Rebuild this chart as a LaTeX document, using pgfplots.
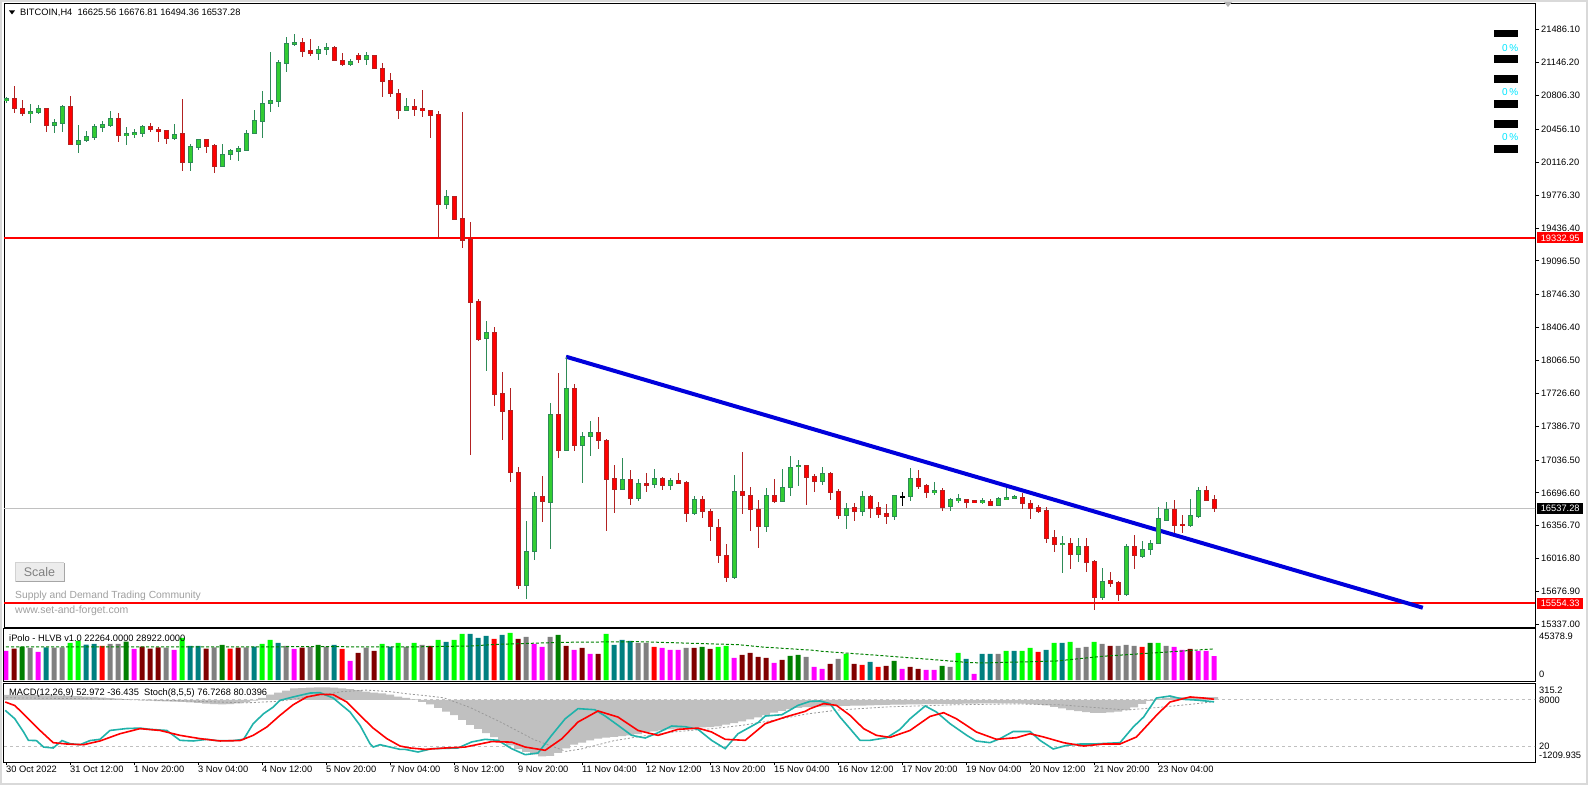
\documentclass[border=0pt]{standalone}
\usepackage{pgfplots}
\usepackage{pgfplotstable}
\pgfplotsset{compat=1.18}
\usepackage{fontspec}
\setmainfont{Liberation Sans}

\definecolor{bullfill}{RGB}{50,205,50}
\definecolor{bullline}{RGB}{46,139,87}
\definecolor{bearfill}{RGB}{255,0,0}
\definecolor{bearline}{RGB}{178,34,34}
\definecolor{trendblue}{RGB}{0,0,220}
\definecolor{silver}{RGB}{192,192,192}
\definecolor{stochmain}{RGB}{32,178,170}
\definecolor{volmag}{RGB}{255,0,255}
\definecolor{volmaroon}{RGB}{128,0,0}
\definecolor{voldg}{RGB}{0,128,0}
\definecolor{volgray}{RGB}{128,128,128}
\definecolor{volteal}{RGB}{0,128,128}
\definecolor{vollime}{RGB}{0,255,0}
\definecolor{volred}{RGB}{255,0,0}
\definecolor{wintext}{RGB}{160,160,160}
\definecolor{pctcyan}{RGB}{0,230,255}

\newcommand\mtf{\fontsize{9.3}{11}\selectfont}

% BITCOIN H4 candles: index, open, high, low, close
\pgfplotstableread{
i o h l c
0 20752 20790 20728 20775
3 20622 20718 20525 20635
4 20628 20705 20618 20666
6 20498 20566 20415 20522
7 20514 20708 20425 20687
9 20297 20498 20215 20343
10 20343 20439 20328 20377
11 20374 20511 20343 20480
12 20473 20545 20432 20501
13 20494 20646 20484 20563
15 20394 20480 20297 20408
16 20401 20460 20370 20418
17 20415 20501 20380 20480
21 20359 20511 20346 20405
23 20111 20304 20025 20273
24 20266 20359 20246 20346
27 20070 20304 20063 20198
28 20194 20250 20139 20232
29 20225 20284 20132 20253
30 20242 20446 20232 20415
31 20411 20656 20408 20542
32 20535 20856 20370 20725
33 20721 21259 20635 20749
34 20742 21173 20687 21142
35 21135 21414 21052 21339
36 21335 21442 21321 21356
39 21238 21318 21176 21284
40 21280 21349 21228 21304
43 21125 21180 21114 21160
45 21176 21256 21125 21222
50 20653 20783 20646 20694
55 19681 19829 19629 19756
60 18295 18474 17960 18357
65 15741 16406 15599 16093
66 16093 16703 16000 16654
68 16600 17626 16113 17509
70 17137 18105 17130 17774
72 17189 17326 16802 17278
73 17282 17440 17081 17323
77 16734 17054 16727 16837
79 16641 16837 16616 16796
81 16786 16944 16744 16847
83 16775 16847 16723 16823
86 16486 16665 16465 16630
91 15824 16882 15809 16713
95 16347 16744 16295 16672
97 16606 16944 16602 16754
98 16754 17075 16667 16961
99 16967 17037 16768 16978
102 16812 16964 16781 16892
105 16460 16592 16326 16537
107 16502 16719 16458 16661
111 16450 16675 16416 16665
113 16657 16951 16616 16847
116 16703 16809 16672 16716
118 16554 16641 16512 16623
119 16616 16682 16589 16633
122 16595 16641 16582 16613
124 16571 16651 16561 16641
125 16633 16744 16623 16644
126 16644 16672 16630 16657
132 16161 16248 15871 16175
134 16065 16227 15985 16137
137 15613 15917 15586 15782
140 15644 16168 15630 16137
142 16037 16202 16020 16113
143 16113 16209 16057 16175
144 16175 16548 16171 16427
145 16416 16599 16406 16520
148 16357 16636 16347 16458
149 16454 16754 16440 16716
}\bull

\pgfplotstableread{
i o h l c
1 20777 20904 20625 20674
2 20674 20759 20597 20622
5 20666 20672 20432 20494
8 20687 20801 20294 20297
14 20563 20622 20328 20390
18 20480 20522 20432 20452
19 20452 20480 20328 20432
20 20439 20449 20308 20359
22 20408 20770 20025 20111
25 20349 20359 20215 20277
26 20284 20304 20008 20070
37 21356 21397 21207 21259
38 21266 21387 21218 21238
41 21304 21321 21163 21166
42 21170 21245 21114 21125
44 21218 21249 21145 21176
46 21222 21225 21083 21090
47 21087 21145 20794 20949
48 20956 21042 20794 20825
49 20829 20876 20566 20649
51 20694 20767 20597 20659
52 20666 20863 20587 20653
53 20653 20656 20363 20601
54 20604 20646 19336 19677
56 19756 19762 19524 19526
57 19529 20635 19234 19304
58 19312 19498 17092 18663
59 18671 18702 18267 18288
61 18357 18409 17598 17716
62 17726 17944 17247 17536
63 17543 17778 16812 16910
64 16910 16961 15700 15741
67 16654 16871 16399 16606
69 17509 17936 17061 17137
71 17774 17823 17130 17185
74 17323 17478 17147 17240
75 17240 17257 16306 16837
76 16843 16982 16492 16734
78 16837 16933 16574 16641
80 16796 16899 16706 16778
82 16847 16861 16730 16775
84 16823 16899 16786 16799
85 16806 16819 16396 16486
87 16630 16665 16434 16506
88 16506 16530 16199 16347
89 16341 16423 15969 16051
90 16051 16168 15778 15824
92 16713 17119 16481 16672
93 16672 16754 16306 16527
94 16527 16623 16130 16347
96 16672 16843 16589 16606
100 16975 16980 16571 16854
101 16861 16892 16709 16812
103 16892 16909 16623 16699
104 16706 16737 16427 16460
106 16540 16592 16409 16502
108 16654 16672 16437 16533
109 16548 16602 16437 16471
110 16478 16582 16378 16450
114 16847 16933 16734 16761
115 16768 16786 16644 16699
117 16716 16744 16512 16548
120 16630 16633 16544 16595
121 16613 16618 16589 16595
123 16610 16630 16561 16568
127 16651 16699 16530 16585
128 16589 16623 16427 16540
129 16548 16568 16489 16502
130 16509 16554 16182 16223
131 16230 16313 16089 16161
133 16175 16230 15913 16065
135 16137 16227 15882 15975
136 15982 16003 15489 15613
138 15785 15876 15726 15757
139 15765 15785 15582 15644
141 16137 16261 15913 16047
146 16520 16623 16279 16357
147 16365 16468 16285 16357
150 16716 16768 16613 16623
151 16625.56 16676.81 16494.36 16537.28
}\bear

% volume with colour class k: 1 magenta 2 maroon 3 green 4 gray 5 teal 6 lime 7 red
\pgfplotstableread{
i v k
0 26970 1
1 29140 2
2 31000 3
3 29760 4
4 26040 1
5 30380 5
6 30070 4
7 30380 4
8 34410 6
9 36270 6
10 32860 5
11 33480 5
12 31620 7
13 33480 4
14 33480 4
15 35650 3
16 28830 1
17 31000 2
18 29140 2
19 30380 2
20 30070 4
21 27900 1
22 39060 6
23 31620 5
24 31620 5
25 29140 2
26 30380 4
27 32550 3
28 29140 7
29 30070 2
30 30380 4
31 31000 5
32 33480 6
33 37200 6
34 34410 5
35 31620 4
36 28830 1
37 30070 2
38 30690 4
39 32550 3
40 31000 4
41 32550 5
42 28830 7
43 17670 1
44 25110 2
45 30070 4
46 26970 2
47 33480 6
48 31000 5
49 34410 6
50 30690 4
51 34410 6
52 32550 4
53 31620 2
54 37200 6
55 35340 5
56 37200 6
57 42780 6
58 42780 5
59 39060 5
60 40920 5
61 38130 7
62 41850 5
63 43710 6
64 38130 2
65 39990 4
66 33480 1
67 30690 1
68 39990 4
69 41850 3
70 31620 2
71 27900 1
72 29760 2
73 24180 1
74 24180 2
75 42780 6
76 32550 5
77 37200 5
78 36270 5
79 34410 4
80 34410 4
81 30690 7
82 29760 1
83 27900 1
84 27900 1
85 29760 4
86 29760 2
87 30690 3
88 28830 2
89 30690 6
90 31620 6
91 20460 1
92 23250 2
93 25110 2
94 21390 2
95 20460 2
96 15810 1
97 18600 2
98 22320 3
99 23250 3
100 21390 4
101 12090 1
102 10230 1
103 14880 2
104 19530 4
105 24180 6
106 14880 2
107 13950 7
108 16740 5
109 12090 7
110 13020 2
111 17670 3
112 10230 1
113 12090 2
114 10230 2
115 9300 1
116 9300 1
117 13020 3
118 12090 4
119 25110 6
120 19530 5
121 5580 1
122 24180 5
123 24180 5
124 24180 4
125 26970 6
126 26970 5
127 26970 6
128 29760 6
129 26040 7
130 27900 5
131 34410 6
132 34410 5
133 35340 6
134 29760 4
135 30690 4
136 35340 6
137 33480 4
138 31620 2
139 31620 4
140 32550 4
141 31620 4
142 30690 7
143 34410 3
144 34410 6
145 31620 4
146 30690 1
147 27900 1
148 28830 2
149 26970 1
150 26970 1
151 22264 1
}\vol

% MACD(12,26,9) main values
\pgfplotstableread{
i m
0 95
1 95
2 93
3 92
4 90
5 88
6 85
7 80
8 75
9 70
10 62
11 55
12 45
13 35
14 25
15 12
16 0
17 -10
18 -18
19 -25
20 -30
21 -35
22 -40
23 -48
24 -60
25 -75
26 -85
27 -90
28 -85
29 -70
30 -50
31 -15
32 40
33 100
34 140
35 180
36 225
37 230
38 240
39 245
40 245
41 240
42 225
43 210
44 190
45 160
46 140
47 127
48 100
49 62
50 40
51 10
52 -40
53 -90
54 -160
55 -232
56 -300
57 -395
58 -493
59 -570
60 -650
61 -730
62 -810
63 -890
64 -965
65 -1020
66 -1070
67 -1110
68 -1100
69 -1040
70 -950
71 -880
72 -839
73 -793
74 -761
75 -741
76 -728
77 -709
78 -696
79 -670
80 -630
81 -617
82 -598
83 -578
84 -565
85 -552
86 -552
87 -539
88 -533
89 -520
90 -487
91 -455
92 -422
93 -383
94 -344
95 -298
96 -252
97 -215
98 -185
99 -160
100 -145
101 -140
102 -135
103 -130
104 -125
105 -120
106 -115
107 -112
108 -108
109 -104
110 -100
111 -96
112 -93
113 -90
114 -88
115 -86
116 -84
117 -82
118 -80
119 -78
120 -76
121 -74
122 -72
123 -70
124 -70
125 -70
126 -72
127 -76
128 -85
129 -95
130 -110
131 -140
132 -170
133 -200
134 -220
135 -240
136 -255
137 -255
138 -245
139 -230
140 -200
141 -150
142 -80
143 -20
144 20
145 40
146 50
147 50
148 50
149 45
150 50
151 52.972
}\macd

\pgfplotsset{
  mtpanel/.style={
    scale only axis, width=1531pt, anchor=south west,
    xmin=-0.25, xmax=191.125,
    axis line style={line width=1pt},
    xtick=\empty, ytick=\empty,
  },
  wick/.style={only marks, mark=none, mark size=0pt, mark options={draw=none, fill=none}, forget plot,
    error bars/.cd, y dir=both, y explicit, error mark=none,
    error bar style={solid, line width=1pt, draw=#1}},
  body/.style 2 args={only marks, mark=none, mark size=0pt, mark options={draw=none, fill=none}, forget plot,
    error bars/.cd, y dir=both, y explicit, error mark=none,
    error bar style={solid, line width=#1, draw=#2}},
}

\begin{document}
\begin{tikzpicture}
\useasboundingbox (0,0) rectangle (1588pt,785pt);
\fill[gray!30] (0,0) rectangle (1588pt,785pt);
\fill[white] (2pt,2pt) rectangle (1586pt,783pt);

% ---- price panel ----
\begin{axis}[mtpanel, at={(4pt,158pt)}, height=623pt,
  ymin=15309.8, ymax=21752.2,
  ytick={21486.1,21146.2,20806.3,20456.1,20116.2,19776.3,19436.4,19096.5,18746.3,18406.4,18066.5,17726.6,17386.7,17036.5,16696.6,16356.7,16016.8,15676.9,15337},
  yticklabels={21486.10,21146.20,20806.30,20456.10,20116.20,19776.30,19436.40,19096.50,18746.30,18406.40,18066.50,17726.60,17386.70,17036.50,16696.60,16356.70,16016.80,15676.90,15337.00},
  ytick pos=right, yticklabel pos=right, tick align=outside,
  major tick length=4pt, ytick style={black, line width=0.8pt},
  yticklabel style={font=\mtf, anchor=west, inner sep=0pt, xshift=2pt},
]
% objects sit behind the candles
\addplot[silver, line width=1pt, forget plot] coordinates {(-1,16537.28) (200,16537.28)};
\addplot[red, line width=2pt, forget plot] coordinates {(-1,19332.95) (200,19332.95)};
\addplot[red, line width=2pt, forget plot] coordinates {(-1,15554.33) (200,15554.33)};
\addplot[trendblue, line width=4pt, forget plot] coordinates {(70,18105) (177.1,15509)};
% candles
\addplot[wick=bullline] table[x=i, y expr={(\thisrow{h}+\thisrow{l})/2}, y error expr={(\thisrow{h}-\thisrow{l})/2}] {\bull};
\addplot[wick=bearline] table[x=i, y expr={(\thisrow{h}+\thisrow{l})/2}, y error expr={(\thisrow{h}-\thisrow{l})/2}] {\bear};
\addplot[wick=black] coordinates {(112,16635) +- (0,71)};
\addplot[body={5pt}{bullline}] table[x=i, y expr={(\thisrow{o}+\thisrow{c})/2}, y error expr={(\thisrow{c}-\thisrow{o})/2+6}] {\bull};
\addplot[body={3pt}{bullfill}] table[x=i, y expr={(\thisrow{o}+\thisrow{c})/2}, y error expr={max((\thisrow{c}-\thisrow{o})/2-4,1)}] {\bull};
\addplot[body={5pt}{bearline}] table[x=i, y expr={(\thisrow{o}+\thisrow{c})/2}, y error expr={max((\thisrow{o}-\thisrow{c})/2+6,6)}] {\bear};
\addplot[body={3pt}{bearfill}] table[x=i, y expr={(\thisrow{o}+\thisrow{c})/2}, y error expr={max((\thisrow{o}-\thisrow{c})/2-4,1)}] {\bear};
\addplot[body={5pt}{black}] coordinates {(112,16657) +- (0,5)};
\coordinate (t1) at (axis cs:191.125,19332.95);
\coordinate (t2) at (axis cs:191.125,15554.33);
\coordinate (t3) at (axis cs:191.125,16537.28);
\end{axis}

% ---- volume panel ----
\begin{axis}[mtpanel, at={(4pt,104pt)}, height=52pt, ymin=-930, ymax=47430]
\addplot[ybar, bar width=5pt, bar shift=0pt, fill=volmag, draw=none, restrict expr to domain={\thisrow{k}}{1:1}] table[x=i, y=v] {\vol};
\addplot[ybar, bar width=5pt, bar shift=0pt, fill=volmaroon, draw=none, restrict expr to domain={\thisrow{k}}{2:2}] table[x=i, y=v] {\vol};
\addplot[ybar, bar width=5pt, bar shift=0pt, fill=voldg, draw=none, restrict expr to domain={\thisrow{k}}{3:3}] table[x=i, y=v] {\vol};
\addplot[ybar, bar width=5pt, bar shift=0pt, fill=volgray, draw=none, restrict expr to domain={\thisrow{k}}{4:4}] table[x=i, y=v] {\vol};
\addplot[ybar, bar width=5pt, bar shift=0pt, fill=volteal, draw=none, restrict expr to domain={\thisrow{k}}{5:5}] table[x=i, y=v] {\vol};
\addplot[ybar, bar width=5pt, bar shift=0pt, fill=vollime, draw=none, restrict expr to domain={\thisrow{k}}{6:6}] table[x=i, y=v] {\vol};
\addplot[ybar, bar width=5pt, bar shift=0pt, fill=volred, draw=none, restrict expr to domain={\thisrow{k}}{7:7}] table[x=i, y=v] {\vol};
\addplot[voldg, line width=1pt, dash pattern=on 3pt off 2pt, mark=none] coordinates {
(0,30690) (20,30690) (40,31000) (50,30690) (58,31620) (61.5,33170) (69.5,35030) (79,35650)
(91.5,32860) (94.5,30690) (101,27590) (102,26660) (109,22940) (116,18910) (120,16430)
(122,15810) (131.3,17670) (137,22010) (142,24490) (151,28922)};
\end{axis}

% ---- MACD panel ----
\begin{axis}[mtpanel, at={(4pt,23pt)}, height=79pt, ymin=-1217.8, ymax=328.9,
  xtick={0,8,...,144},
  xticklabels={30 Oct 2022,31 Oct 12:00,1 Nov 20:00,3 Nov 04:00,4 Nov 12:00,5 Nov 20:00,7 Nov 04:00,8 Nov 12:00,9 Nov 20:00,11 Nov 04:00,12 Nov 12:00,13 Nov 20:00,15 Nov 04:00,16 Nov 12:00,17 Nov 20:00,19 Nov 04:00,20 Nov 12:00,21 Nov 20:00,23 Nov 04:00},
  xtick pos=bottom, tick align=outside, major tick length=3pt,
  xtick style={black, line width=0.8pt},
  xticklabel style={font=\mtf, anchor=north west, inner sep=0pt, yshift=-1pt},
]
\addplot[ybar, bar width=8pt, bar shift=0pt, fill=silver, draw=none] table[x=i, y=m] {\macd};
\addplot[silver!80!black, line width=0.8pt, dash pattern=on 2pt off 2pt, mark=none] coordinates {
(0,40) (10,20) (20,-10) (26,-40) (30,-60) (34,-30) (38,60) (42,160) (45,190) (48,160)
(50,120) (52.5,80) (54.7,40) (58,-150) (62,-450) (66,-780) (70,-1010) (72,-960) (74,-880)
(76,-800) (80,-700) (84,-620) (88,-570) (92,-500) (96,-400) (100,-280) (104,-200)
(110,-140) (118,-100) (126,-80) (132,-100) (136,-150) (140,-200) (144,-150) (148,-90)
(151,-36.435)};
\end{axis}

% ---- Stochastic(8,5,5) on the same panel ----
\begin{axis}[mtpanel, at={(4pt,23pt)}, height=79pt, ymin=-0.5, ymax=100.9,
  axis line style={draw=none}]
\addplot[silver, line width=0.8pt, dash pattern=on 3pt off 3pt] coordinates {(-1,80) (200,80)};
\addplot[silver, line width=0.8pt, dash pattern=on 3pt off 3pt] coordinates {(-1,20) (200,20)};
\addplot[stochmain, line width=1.6pt, mark=none] coordinates {
(-0.1,65.8) (1.1,55) (2.2,38) (2.8,27.3) (3.8,27) (4.7,18.7) (5.9,17.5) (7.0,27) (8.0,23)
(9.25,21.7) (10.5,27) (11.75,28.6) (13,40) (15.1,42.5) (16.75,43) (18,41.4) (20.1,40)
(21.75,27.3) (23.4,26.5) (25.1,28.6) (26.3,27) (28.4,27) (29.7,28.6) (30.9,48.7) (32.2,61.5)
(33.4,70) (34.25,78.6) (35.9,83) (38,88) (39.25,88.5) (40.9,81.6) (43,63.7) (44.25,46.6)
(45.5,23) (45.9,18.7) (46.75,21.7) (48,18.7) (49.25,15.7) (49.9,15.7) (51.5,12.3) (53.2,16.6)
(56.5,17.5) (58.2,25.2) (59.9,28.6) (61.5,27.3) (63.2,16.6) (64.9,8.9) (66.5,11) (68.2,33.7)
(69.9,55) (71.5,68) (73.6,66.6) (74.9,58.5) (76.5,46.6) (78.2,33.7) (79.9,30.3) (81.5,37.1)
(83.2,45.7) (84.9,44.8) (86.5,41.4) (88.2,27.3) (89.9,16.6) (91.5,35.8) (94,50) (94.9,58.5)
(97,60.2) (99,72.2) (100.5,77.3) (101.75,77.8) (103,74.4) (104.25,57.2) (105.5,42.3)
(106.75,27.3) (108,27.3) (110.1,30.7) (111.75,41.4) (113,55) (114.9,71.4) (116.3,63.7)
(118,48.7) (120.1,33.7) (121.25,26.5) (123,24.3) (124.25,29.5) (125.9,38.7) (128,38.7)
(129.25,27.3) (130.9,16.2) (132.6,20.9) (134.25,22.6) (135.9,22.6) (139.25,24.3)
(140.9,44.4) (142.2,57.2) (143.8,81.6) (145.5,84.2) (147.2,79.9) (148.8,79) (151,76.7268)};
\addplot[red, line width=1.6pt, mark=none] coordinates {
(-0.1,76.5) (1.1,72) (2.6,57) (4.25,40) (5.9,24.3) (7.6,22.6) (9.7,21.7) (11.75,26.5)
(14.25,35.8) (16.75,42.3) (19.25,40) (21.75,33.7) (24.25,29.5) (26.75,26.5) (29.25,27)
(30.9,33.7) (32.6,44.4) (34.25,59.4) (35.9,73) (37.6,83) (39.25,86.3) (40.9,86) (42.6,76.5)
(44.25,59.4) (45.9,43) (47.6,29.5) (49.25,20) (50.5,17.5) (52.4,15.7) (54.9,17.5) (57.4,18.7)
(60.7,25.7) (63.2,25) (64.9,18.7) (67.4,14.5) (69.5,29.5) (71.5,50.8) (74,65) (76.5,57.2)
(79,40) (81.5,33.7) (84,41.4) (86.5,43) (88.2,38) (89.9,28.6) (92.4,27.3) (94.9,48.7)
(97.4,57.2) (99.9,64.5) (100.5,67.9) (102.2,74.4) (103.8,72.2) (105.5,59.4) (107.2,42.3)
(108.8,33.7) (110.5,31.1) (113,40) (115.5,58) (117.2,62.8) (118.8,55) (121.3,38) (123.8,28.6)
(126.3,30.7) (128,35.8) (129.7,31.6) (132.2,24.3) (134.7,20) (137.2,22.6) (139.25,22.6)
(141.3,31.6) (143.8,59.4) (145.5,76.5) (148,83) (149.7,81.6) (151,80.0396)};
\end{axis}

% ---- price tags on the right scale ----
\node[fill=red, text=white, font=\mtf, inner sep=1pt, anchor=west, minimum height=11pt, minimum width=46pt] at ([xshift=2pt]t1) {19332.95};
\node[fill=red, text=white, font=\mtf, inner sep=1pt, anchor=west, minimum height=11pt, minimum width=46pt] at ([xshift=2pt]t2) {15554.33};
\node[fill=black, text=white, font=\mtf, inner sep=1pt, anchor=west, minimum height=11pt, minimum width=46pt] at ([xshift=2pt]t3) {16537.28};

% ---- window texts and objects (1px = 1pt, origin bottom left) ----
\begin{scope}[x=1pt, y=1pt]
\fill[black] (9,774.5) -- (15,774.5) -- (12,770.5) -- cycle;
\node[font=\mtf, anchor=west, inner sep=0pt] at (20,772.5) {BITCOIN,H4\ \ 16625.56 16676.81 16494.36 16537.28};
\fill[gray!60] (1224,783) -- (1232,783) -- (1228,778) -- cycle;
\fill[black] (1494,755) rectangle (1518,747.7);
\fill[black] (1494,730) rectangle (1518,722.3);
\fill[black] (1494,709.7) rectangle (1518,702.3);
\fill[black] (1494,685) rectangle (1518,677.3);
\fill[black] (1494,665) rectangle (1518,657.3);
\fill[black] (1494,640) rectangle (1518,632.3);
\node[font=\fontsize{10}{12}\selectfont, text=pctcyan, anchor=west, inner sep=0pt] at (1502,737.3) {0\,\%};
\node[font=\fontsize{10}{12}\selectfont, text=pctcyan, anchor=west, inner sep=0pt] at (1502,693.3) {0\,\%};
\node[font=\fontsize{10}{12}\selectfont, text=pctcyan, anchor=west, inner sep=0pt] at (1502,648.3) {0\,\%};
% Scale button and community labels
\fill[gray!15] (15,203) rectangle (64,222);
\draw[gray!70, line width=1pt] (15,203) -- (64,203) -- (64,222);
\draw[gray!35, line width=1pt] (15,203) -- (15,222) -- (64,222);
\node[font=\fontsize{12.5}{14}\selectfont, text=gray, inner sep=0pt] at (39.5,212.5) {Scale};
\node[font=\fontsize{10.3}{12}\selectfont, text=wintext, anchor=west, inner sep=0pt] at (15,189.3) {Supply and Demand Trading Community};
\node[font=\fontsize{10.5}{12}\selectfont, text=wintext, anchor=west, inner sep=0pt] at (15,174.3) {www.set-and-forget.com};
% indicator labels
\node[font=\mtf, anchor=west, inner sep=0pt] at (9,147.3) {iPolo - HLVB v1.0 22264.0000 28922.0000};
\node[font=\mtf, anchor=west, inner sep=0pt] at (9,92.3) {MACD(12,26,9) 52.972 -36.435\ \ Stoch(8,5,5) 76.7268 80.0396};
% right scale labels of the lower panels
\node[font=\mtf, anchor=west, inner sep=0pt] at (1539,149) {45378.9};
\node[font=\mtf, anchor=west, inner sep=0pt] at (1539,110.7) {0};
\node[font=\mtf, anchor=west, inner sep=0pt] at (1539,94.3) {315.2};
\node[font=\mtf, anchor=west, inner sep=0pt] at (1539,85) {8000};
\node[font=\mtf, anchor=west, inner sep=0pt] at (1539,38.3) {20};
\node[font=\mtf, anchor=west, inner sep=0pt] at (1539,30) {-1209.935};
\end{scope}
\end{tikzpicture}
\end{document}
